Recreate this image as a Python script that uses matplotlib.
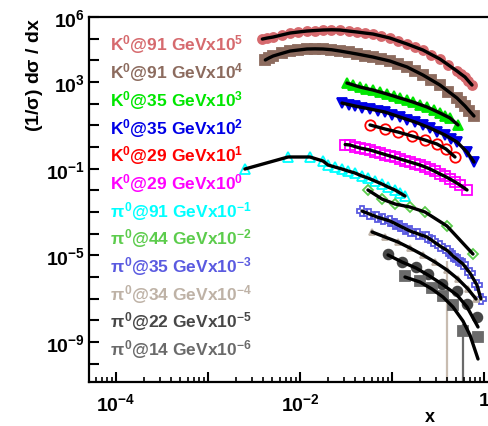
import matplotlib
matplotlib.use("Agg")
import matplotlib.pyplot as plt
import matplotlib.ticker as mticker
import numpy as np

plt.rcParams['font.family'] = ['Liberation Sans', 'DejaVu Sans']
plt.rcParams['font.weight'] = 'bold'
plt.rcParams['mathtext.fontset'] = 'custom'
plt.rcParams['mathtext.rm'] = 'Liberation Sans:bold'
plt.rcParams['mathtext.it'] = 'Liberation Sans:bold'
plt.rcParams['mathtext.bf'] = 'Liberation Sans:bold'
plt.rcParams['mathtext.sf'] = 'Liberation Sans:bold'

# K0 @ 91 GeV (x10^5)
k91a_x = [0.0039, 0.0044, 0.0051, 0.0063, 0.0078, 0.0096, 0.0119, 0.0146, 0.0178, 0.022,
          0.0272, 0.0337, 0.0417, 0.0508, 0.0621, 0.0767, 0.095, 0.1175, 0.146, 0.178,
          0.217, 0.268, 0.332, 0.411, 0.509, 0.562, 0.622, 0.678, 0.741]
k91a_y = [0.96, 1.07, 1.19, 1.47, 1.82, 2.03, 2.25, 2.38, 2.51, 2.57,
          2.51, 2.25, 2.03, 1.82, 1.64, 1.33, 1.07, 0.78, 0.566, 0.411,
          0.299, 0.185, 0.115, 0.0608, 0.0321, 0.0233, 0.0170, 0.0111, 0.00726]
# K0 @ 91 GeV (x10^4)
k91b_x = [0.0042, 0.0046, 0.0051, 0.0063, 0.0078, 0.0096, 0.0119, 0.0146, 0.0178, 0.022,
          0.0272, 0.0337, 0.0417, 0.0508, 0.0621, 0.0767, 0.095, 0.1175, 0.146, 0.178,
          0.217, 0.268, 0.332, 0.411, 0.509, 0.562, 0.622, 0.695, 0.778]
k91b_y = [1.04, 1.28, 1.58, 2.07, 2.69, 2.99, 3.33, 3.39, 3.33, 3.09,
          2.69, 2.30, 1.96, 1.67, 1.42, 1.15, 0.93, 0.676, 0.492, 0.321,
          0.210, 0.124, 0.0726, 0.0364, 0.0182, 0.0119, 0.0078, 0.00458, 0.0027]
# K0 @ 35 GeV (x10^3)
k35a_x = [0.0324, 0.0381, 0.0449, 0.0528, 0.0621, 0.0741, 0.0883, 0.104, 0.122, 0.144,
          0.169, 0.201, 0.240, 0.283, 0.332, 0.377, 0.427, 0.522]
k35a_y = [0.897, 0.726, 0.587, 0.50, 0.427, 0.345, 0.279, 0.226, 0.182, 0.148,
          0.119, 0.0915, 0.0702, 0.051, 0.0371, 0.0284, 0.0218, 0.0104]
# K0 @ 35 GeV (x10^2)
k35b_x = [0.0286, 0.0337, 0.0396, 0.0478, 0.0577, 0.0696, 0.0839, 0.101, 0.122, 0.147,
          0.178, 0.215, 0.259, 0.312, 0.377, 0.438, 0.509, 0.654, 0.778]
k35b_y = [1.07, 0.914, 0.78, 0.665, 0.568, 0.484, 0.412, 0.316, 0.242, 0.186,
          0.1426, 0.1036, 0.0754, 0.0519, 0.0358, 0.0247, 0.0170, 0.00587, 0.00203]
# K0 @ 29 GeV (x10^1)
k29a_x = [0.0577, 0.0839, 0.1161, 0.1649, 0.2285, 0.308, 0.386, 0.484]
k29a_y = [1.04, 0.678, 0.492, 0.322, 0.210, 0.1374, 0.0809, 0.0346]
# K0 @ 29 GeV (x10^0)
k29b_x = [0.031, 0.0349, 0.0395, 0.0449, 0.0510, 0.0577, 0.0655, 0.0741, 0.084, 0.0951,
          0.108, 0.1222, 0.139, 0.157, 0.178, 0.2015, 0.229, 0.259, 0.293, 0.332,
          0.378, 0.427, 0.484, 0.548, 0.654]
k29b_y = [1.30, 1.24, 1.05, 0.90, 0.81, 0.728, 0.62, 0.528, 0.45, 0.385,
          0.33, 0.279, 0.238, 0.203, 0.173, 0.1476, 0.12, 0.0966, 0.075, 0.0568,
          0.044, 0.0333, 0.0245, 0.0176, 0.0104]
# pi0 @ 91 GeV (x10^-1)
p91_x = [0.00252, 0.00741, 0.01284, 0.01778, 0.0202, 0.0240, 0.0286, 0.0333, 0.0396, 0.0472,
         0.0548, 0.0653, 0.0778, 0.0906, 0.1079, 0.1222, 0.1385]
p91_y = [0.966, 3.46, 3.46, 2.26, 1.476, 1.19, 0.966, 0.78, 0.631, 0.459,
         0.371, 0.270, 0.196, 0.1426, 0.1037, 0.0754, 0.0548]
# pi0 @ 44 GeV (x10^-2)
p44_x = [0.0548, 0.0778, 0.1079, 0.157, 0.2285, 0.396, 0.759]
p44_y = [1.04, 0.398, 0.234, 0.170, 0.100, 0.0226, 0.00115]
# pi0 @ 35 GeV (x10^-3)
p35_x = [0.0472, 0.0569, 0.0687, 0.0808, 0.0951, 0.108, 0.122, 0.1385, 0.157, 0.194,
         0.240, 0.2825, 0.332, 0.406, 0.460, 0.522, 0.591, 0.704, 0.839, 0.927]
p35_y = [1.11, 0.81, 0.589, 0.476, 0.385, 0.295, 0.226, 0.173, 0.133, 0.0967,
         0.0703, 0.0436, 0.027, 0.0159, 0.00933, 0.0061, 0.00399, 0.00153, 0.000428, 0.0000968]
# pi0 @ 34 GeV (x10^-4)
p34_x = [0.0607, 0.0839, 0.1161, 0.157, 0.2173, 0.293, 0.396, 0.522, 0.670, 0.819]
p34_y = [1.20, 0.703, 0.413, 0.218, 0.1038, 0.0493, 0.0211, 0.0081, 0.0028, 0.00097]
# pi0 @ 22 GeV (x10^-5)
p22_x = [0.0906, 0.1285, 0.1824, 0.246, 0.349, 0.509, 0.654, 0.839]
p22_y = [1.15, 0.493, 0.290, 0.138, 0.0476, 0.0226, 0.00569, 0.00143]
p22_fit_x = [0.0906, 0.1285, 0.1824, 0.246, 0.349, 0.509, 0.654, 0.861]
p22_fit_y = [1.04, 0.493, 0.261, 0.124, 0.0476, 0.0148, 0.00414, 0.000494]
# pi0 @ 14 GeV (x10^-6)
p14_x = [0.1385, 0.2015, 0.272, 0.358, 0.460, 0.591, 0.861]
p14_y = [1.11, 0.655, 0.311, 0.133, 0.0512, 0.00323, 0.0017]
p14_fit_x = [0.1385, 0.2015, 0.272, 0.358, 0.460, 0.591, 0.704, 0.861]
p14_fit_y = [1.0, 0.589, 0.28, 0.12, 0.0414, 0.00933, 0.00211, 0.000165]

# big error bars running off the bottom (unscaled upper ends)
p34_err_x, p34_err_hi = [0.396], [0.0548]
p14_err_x, p14_err_hi = [0.591], [0.0068]

series = [
    # label, x, y, scale, colour, marker, filled, size, fit
    (r"K$^{0}$@91 GeVx10$^{5}$", k91a_x, k91a_y, 1e5, '#d66a6e', 'o', True, 6.5, None),
    (r"K$^{0}$@91 GeVx10$^{4}$", k91b_x, k91b_y, 1e4, '#8c6b5e', 's', True, 6.5, None),
    (r"K$^{0}$@35 GeVx10$^{3}$", k35a_x, k35a_y, 1e3, '#00e600', '^', True, 6.5, None),
    (r"K$^{0}$@35 GeVx10$^{2}$", k35b_x, k35b_y, 1e2, '#0000e6', 'v', True, 6.5, None),
    (r"K$^{0}$@29 GeVx10$^{1}$", k29a_x, k29a_y, 1e1, '#ff0000', 'o', False, 7.5, None),
    (r"K$^{0}$@29 GeVx10$^{0}$", k29b_x, k29b_y, 1e0, '#ff00ff', 's', False, 7, None),
    (r"$\pi^{0}$@91 GeVx10$^{-1}$", p91_x, p91_y, 1e-1, '#00ffff', '^', False, 7.5, None),
    (r"$\pi^{0}$@44 GeVx10$^{-2}$", p44_x, p44_y, 1e-2, '#5ccc4c', 'D', False, 5.5, None),
    (r"$\pi^{0}$@35 GeVx10$^{-3}$", p35_x, p35_y, 1e-3, '#5a5ae0', 'P', False, 7.5, None),
    (r"$\pi^{0}$@34 GeVx10$^{-4}$", p34_x, p34_y, 1e-4, '#beb2a6', '^', True, 4, None),
    (r"$\pi^{0}$@22 GeVx10$^{-5}$", p22_x, p22_y, 1e-5, '#474747', 'o', True, 7, (p22_fit_x, p22_fit_y)),
    (r"$\pi^{0}$@14 GeVx10$^{-6}$", p14_x, p14_y, 1e-6, '#6a6a6a', 's', True, 7, (p14_fit_x, p14_fit_y)),
]

W, H = 489, 427
fig = plt.figure(figsize=(W / 100, H / 100), dpi=100)
ax = fig.add_axes([89 / W, (H - 383) / H, (494 - 89) / W, (383 - 18) / H])
ax.set_xscale('log')
ax.set_yscale('log')
ax.set_xlim(5.09e-5, 1.285)
ax.set_ylim(1.43e-11, 10 ** 6.0)

ybot = 1e-12
ax.vlines(p34_err_x, ybot, np.array(p34_err_hi) * 1e-4, color='#c8bcb0', lw=1.6, zorder=1)
ax.vlines(p14_err_x, ybot, np.array(p14_err_hi) * 1e-6, color='#6a6a6a', lw=1.6, zorder=1)

for label, x, y, sc, col, mk, filled, ms, fit in series:
    y = np.array(y) * sc
    ax.plot(x, y, ls='none', marker=mk, ms=ms, mec=col,
            mfc=col if filled else 'none', mew=1.3, zorder=2)
for label, x, y, sc, col, mk, filled, ms, fit in series:
    fx, fy = (x, y) if fit is None else fit
    ax.plot(fx, np.array(fy) * sc, color='black', lw=2.4, zorder=3,
            solid_capstyle='round')

for i, (label, x, y, sc, col, mk, filled, ms, fit) in enumerate(series):
    fig.text(110 / W, 1 - (45 + i * 27.7) / H, label, color=col, fontsize=12.5,
             fontweight='bold', va='center', ha='left')

# ticks
ax.xaxis.set_major_locator(mticker.FixedLocator([1e-4, 1e-3, 1e-2, 1e-1, 1]))
ax.xaxis.set_major_formatter(mticker.FixedFormatter(
    [r'$10^{-4}$', '', r'$10^{-2}$', '', '1']))
ax.xaxis.set_minor_locator(mticker.LogLocator(base=10, subs=np.arange(2, 10), numticks=20))
ax.xaxis.set_minor_formatter(mticker.NullFormatter())

ydec = list(range(-10, 7))
ylabs = {6: r'$10^{6}$', 3: r'$10^{3}$', -1: r'$10^{-1}$', -5: r'$10^{-5}$', -9: r'$10^{-9}$'}
ax.yaxis.set_major_locator(mticker.FixedLocator([10.0 ** k for k in ydec]))
ax.yaxis.set_major_formatter(mticker.FixedFormatter([ylabs.get(k, '') for k in ydec]))
ax.yaxis.set_minor_locator(mticker.NullLocator())

ax.tick_params(which='major', direction='in', length=7, width=1.5, labelsize=14)
ax.tick_params(which='minor', direction='in', length=3.5, width=1.2)
ax.tick_params(axis='x', which='major', pad=7)
ax.tick_params(axis='y', which='major', pad=3)
for s in ax.spines.values():
    s.set_linewidth(1.6)

fig.text(35 / W, 1 - 18 / H, r'(1/$\sigma$) d$\sigma$ / dx', rotation=90,
         ha='center', va='top', fontsize=14, fontweight='bold')
fig.text(430 / W, 1 - 426 / H, 'x', ha='center', va='bottom', fontsize=13,
         fontweight='bold')

fig.savefig('out.png', dpi=100)
